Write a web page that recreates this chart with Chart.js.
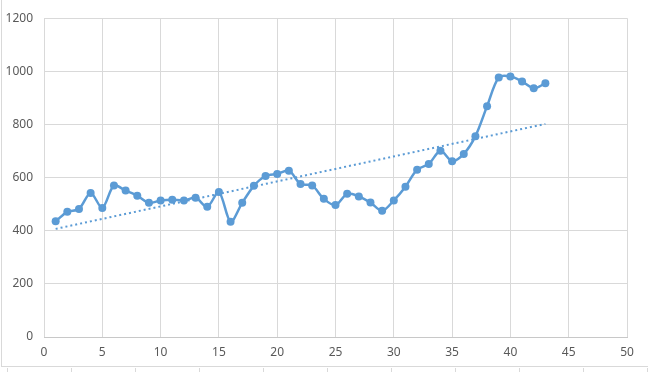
<!DOCTYPE html>
<html>
<head>
<meta charset="utf-8">
<script src="https://cdn.jsdelivr.net/npm/chart.js@4"></script>
<style>
  body { margin: 0; background: #fff; }
  #wrap { position: relative; width: 648px; height: 372px; overflow: hidden; }
  #frame { position: absolute; left: 1px; top: 0; width: 647px; height: 367px; border-left: 1px solid #d9d9d9; border-bottom: 1px solid #d9d9d9; box-sizing: border-box; }
  #cells { position: absolute; left: 0; top: 368px; width: 648px; height: 4px;
    background: repeating-linear-gradient(to right, transparent 0, transparent 7px, #d9d9d9 7px, #d9d9d9 8px, transparent 8px, transparent 64px); }
  canvas { position: absolute; left: 0; top: 0; }
</style>
</head>
<body>
<div id="wrap">
  <div id="frame"></div>
  <div id="cells"></div>
  <canvas id="chart" width="648" height="366"></canvas>
</div>
<script>
const xValues = [1, 2, 3, 4, 5, 6, 7, 8, 9, 10, 11, 12, 13, 14, 15, 16, 17, 18, 19, 20, 21, 22,
  23, 24, 25, 26, 27, 28, 29, 30, 31, 32, 33, 34, 35, 36, 37, 38, 39, 40, 41, 42, 43];
const yValues = [436, 471, 482, 542, 486, 570, 551, 532, 505, 514, 517, 514, 524, 490, 546, 434,
  505, 569, 606, 614, 626, 576, 570, 520, 497, 539, 529, 506, 475, 514, 566, 630, 651, 701,
  662, 689, 756, 869, 977, 981, 962, 936, 955];
// linear trendline ends
const trendX = [1, 43];
const trendY = [407, 802];

const blue = '#5b9bd5';
const gridColor = '#d9d9d9';
const tickColor = '#595959';
const tickFont = { family: 'Noto Sans', size: 12 };

new Chart(document.getElementById('chart'), {
  type: 'scatter',
  data: {
    datasets: [
      {
        label: 'Trend',
        data: trendX.map((x, i) => ({ x, y: trendY[i] })),
        showLine: true,
        borderColor: blue,
        borderWidth: 2,
        borderDash: [2, 3],
        pointRadius: 0
      },
      {
        label: 'Series',
        data: xValues.map((x, i) => ({ x, y: yValues[i] })),
        showLine: true,
        borderColor: blue,
        backgroundColor: blue,
        borderWidth: 2.5,
        tension: 0.3,
        pointRadius: 4,
        pointBorderWidth: 0
      }
    ]
  },
  options: {
    responsive: false,
    animation: false,
    layout: { padding: { top: 17, right: 21, left: 2, bottom: 0 } },
    plugins: { legend: { display: false }, tooltip: { enabled: false } },
    scales: {
      x: {
        type: 'linear',
        min: 0,
        max: 50,
        ticks: { stepSize: 5, color: tickColor, font: tickFont, padding: 8, callback: (v) => String(v) },
        grid: { color: gridColor, drawTicks: false },
        border: { color: '#c8c8c8' },
        afterFit: (scale) => { scale.height = 29; }
      },
      y: {
        min: 0,
        max: 1200,
        ticks: { stepSize: 200, color: tickColor, font: tickFont, padding: 11, callback: (v) => String(v) },
        grid: { color: gridColor, drawTicks: false },
        border: { display: false },
        afterFit: (scale) => { scale.width = 42; }
      }
    }
  }
});
</script>
</body>
</html>
